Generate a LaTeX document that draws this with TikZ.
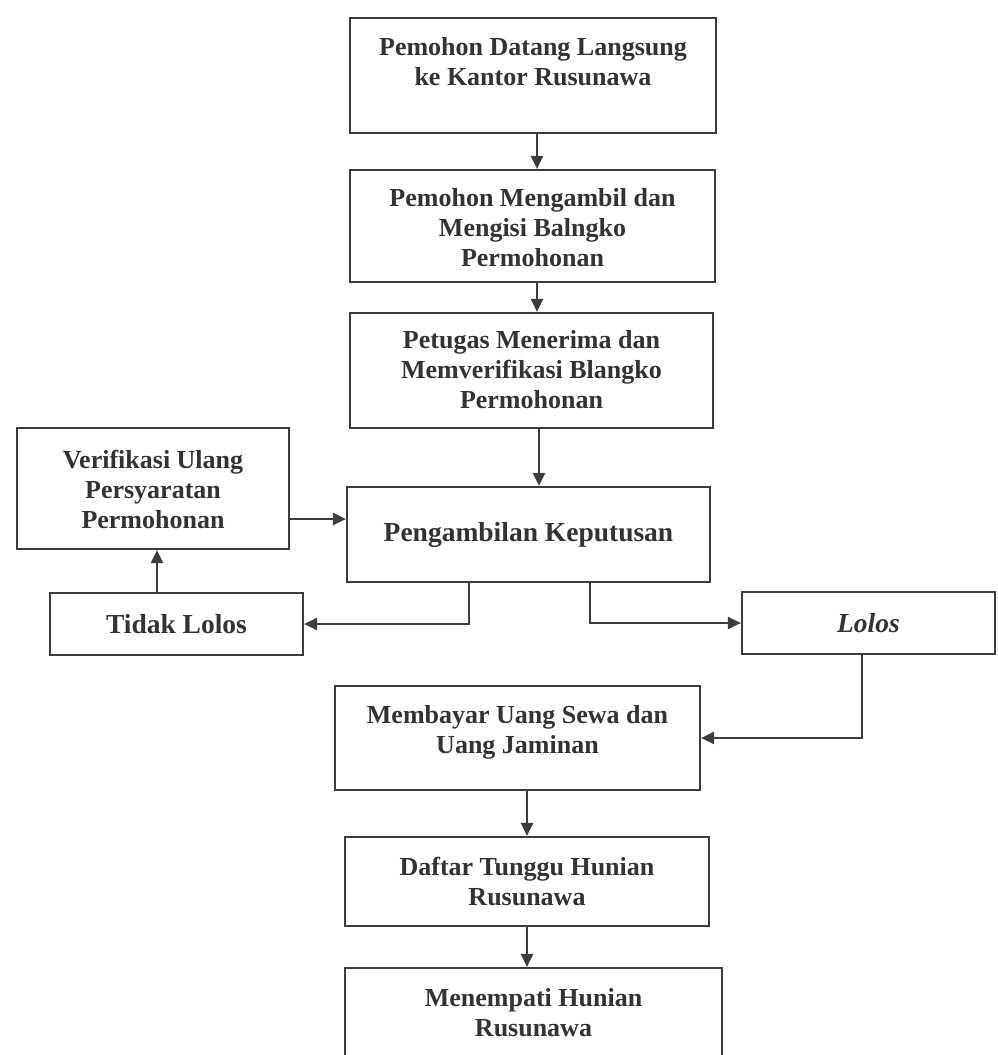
\documentclass[tikz,border=0pt]{standalone}
\usepackage{fontspec}
\setmainfont{Liberation Serif}
\usetikzlibrary{arrows.meta}
\definecolor{ink}{HTML}{3C3C3C}
\definecolor{txt}{HTML}{333333}
\newcommand{\bxt}[4]{\parbox[c][#2pt][t]{#1pt}{\centering\vspace*{#3pt}\strut #4\par}}
\tikzset{
  flowbox/.style={draw=ink, line width=2.2pt, rectangle, inner sep=0pt, fill=white,
    text=txt, font=\bfseries\fontsize{26}{30}\selectfont},
  arr/.style={draw=ink, line width=2.2pt, -{Triangle[length=13pt,width=12pt]}},
}
\begin{document}
\begin{tikzpicture}[x=1pt,y=-1pt]
\useasboundingbox (0,0) rectangle (997,1055);
\clip (0,0) rectangle (997,1055);
\fill[white] (0,0) rectangle (997,1055);

\node[flowbox] (b1) at (533,75.5) {\bxt{366}{115}{16}{Pemohon Datang Langsung\\ke Kantor Rusunawa}};
\node[flowbox] (b2) at (532.5,226) {\bxt{365}{112}{15}{Pemohon Mengambil dan\\Mengisi Balngko\\Permohonan}};
\node[flowbox] (b3) at (531.5,370.5) {\bxt{363}{115}{14}{Petugas Menerima dan\\Memverifikasi Blangko\\Permohonan}};
\node[flowbox, minimum width=363pt, minimum height=95pt, font=\bfseries\fontsize{27.5}{30}\selectfont] (b4) at (528.5,534.5) {Pengambilan Keputusan};
\node[flowbox] (ver) at (153,488.5) {\bxt{272}{121}{19}{Verifikasi Ulang\\Persyaratan\\Permohonan}};
\node[flowbox, minimum width=253pt, minimum height=62pt, font=\bfseries\fontsize{27.5}{30}\selectfont] (tl) at (176.5,624) {Tidak Lolos};
\node[flowbox, minimum width=253pt, minimum height=62pt, font=\bfseries\itshape\fontsize{27.5}{30}\selectfont] (lo) at (868.5,623) {Lolos};
\node[flowbox] (mb) at (517.5,738) {\bxt{365}{104}{16}{Membayar Uang Sewa dan\\Uang Jaminan}};
\node[flowbox] (dt) at (527,881.5) {\bxt{364}{89}{17}{Daftar Tunggu Hunian\\Rusunawa}};
\node[flowbox] (mn) at (533.5,1024) {\bxt{377}{112}{17}{Menempati Hunian\\Rusunawa}};

\draw[arr] (b1.south -| 537,0) -- (b2.north -| 537,0);
\draw[arr] (b2.south -| 537,0) -- (b3.north -| 537,0);
\draw[arr] (b3.south -| 539,0) -- (b4.north -| 539,0);
\draw[arr] (ver.east |- 0,519) -- (b4.west |- 0,519);
\draw[arr] (b4.south -| 469,0) |- (tl.east);
\draw[arr] (tl.north -| 157,0) -- (ver.south -| 157,0);
\draw[arr] (b4.south -| 590,0) |- (lo.west);
\draw[arr] (lo.south -| 862,0) |- (mb.east);
\draw[arr] (mb.south -| dt.north) -- (dt.north);
\draw[arr] (dt.south) -- (dt.south |- mn.north);
\end{tikzpicture}
\end{document}
